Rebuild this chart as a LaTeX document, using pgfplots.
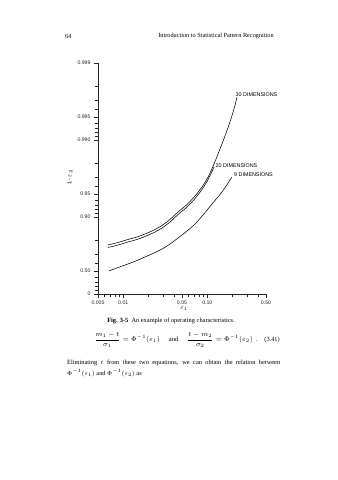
\documentclass[border=0pt]{standalone}
\usepackage{fontspec}
\setmainfont{Liberation Serif}
\newfontfamily\lsans{Liberation Sans}
\usepackage{amsmath}
\usepackage{pgfplots}
\pgfplotsset{compat=1.18}
\begin{document}
\begin{tikzpicture}[x=1bp,y=1bp]
\useasboundingbox (0,0) rectangle (337,480);
\fill[white] (0,0) rectangle (337,480);
% page header
\node[anchor=west, inner sep=0, font=\fontsize{6.3}{7.5}\selectfont] at (65,444) {64};
\node[inner sep=0, font=\fontsize{6.3}{7.5}\selectfont] at (216,444) {Introduction to Statistical Pattern Recognition};
\begin{axis}[
  at={(98bp,186bp)}, anchor=south west,
  scale only axis, width=168bp, height=231bp,
  xmode=log, ymode=log, y dir=reverse,
  xmin=0.005, xmax=0.5, ymin=0.001, ymax=1,
  axis lines=left, axis line style={-, line width=0.5pt, black!85},
  xtick={0.005,0.01,0.05,0.1,0.5},
  xticklabels={0.005,0.01,0.05,0.10,0.50},
  minor xtick={0.006,0.007,0.008,0.009,0.02,0.03,0.04,0.06,0.07,0.08,0.09,0.2,0.3,0.4},
  ytick={0.001,0.005,0.01,0.05,0.1,0.5,1},
  yticklabels={0.999,0.995,0.990,0.95,0.90,0.50,0},
  minor ytick={0.002,0.003,0.004,0.006,0.007,0.008,0.009,0.02,0.03,0.04,0.06,0.07,0.08,0.09,0.2,0.3,0.4,0.6,0.7,0.8,0.9},
  tick align=outside, major tick length=4bp, minor tick length=3.5bp,
  tick style={black!85, line width=0.4pt},
  ticklabel style={font=\lsans\fontsize{5.2}{6}\selectfont, text=black!85},
  xticklabel style={yshift=0.5bp},
  /pgf/number format/assume math mode=true,
  clip=false,
]
% 30 dimensions
\addplot[black, line width=0.55pt, smooth] coordinates {
 (0.00658,0.2312) (0.00865,0.2143) (0.01138,0.1959) (0.01456,0.1818) (0.01815,0.1663)
 (0.02323,0.1476) (0.0289,0.1289) (0.0360,0.1076) (0.0448,0.0861) (0.0574,0.0688)
 (0.0714,0.0533) (0.0865,0.0407) (0.1021,0.0303) (0.1202,0.0205) (0.1416,0.0131)
 (0.1625,0.00887) (0.1862,0.00583) (0.2080,0.00395) (0.226,0.00277)};
% 20 dimensions
\addplot[black, line width=0.55pt, smooth] coordinates {
 (0.00658,0.249) (0.00865,0.2312) (0.01138,0.2113) (0.01456,0.1959) (0.01815,0.1791)
 (0.02323,0.1589) (0.0289,0.1390) (0.0360,0.1161) (0.0448,0.0929) (0.0574,0.0742)
 (0.0714,0.0575) (0.0865,0.0439) (0.1021,0.0326) (0.1202,0.0224)};
% 9 dimensions
\addplot[black, line width=0.55pt, smooth] coordinates {
 (0.00676,0.502) (0.00865,0.453) (0.01138,0.4074) (0.01456,0.367) (0.01815,0.3304)
 (0.02323,0.2935) (0.0289,0.2606) (0.0360,0.2244) (0.0448,0.1875) (0.0574,0.1521)
 (0.0714,0.1233) (0.0889,0.0942) (0.1138,0.0678) (0.1496,0.0473) (0.1968,0.0303)};
\node[anchor=south west, inner sep=0.5bp, font=\lsans\fontsize{5.4}{6}\selectfont] at (axis cs:0.214,0.00277) {30 DIMENSIONS};
\node[anchor=west, inner sep=0.5bp, font=\lsans\fontsize{5.4}{6}\selectfont] at (axis cs:0.1236,0.0218) {20 DIMENSIONS};
\node[anchor=west, inner sep=0.5bp, font=\lsans\fontsize{5.4}{6}\selectfont] at (axis cs:0.205,0.0285) {9 DIMENSIONS};
\end{axis}
% axis labels
\node[rotate=90, font=\lsans\fontsize{5.6}{6}\selectfont] at (70,303) {1\,-\,$\varepsilon_2$};
\node[font=\fontsize{6.5}{7}\selectfont] at (184,171) {$\varepsilon_1$};
% caption
\node[font=\fontsize{6.4}{7.5}\selectfont] at (171,159) {\textbf{Fig. 3-5}\enspace An example of operating characteristics.};
% equation
\node[font=\fontsize{6.6}{8}\selectfont] at (176,140) {$\dfrac{m_1-t}{\sigma_1}=\Phi^{-1}(\varepsilon_1)\quad\;\text{and}\quad\;\dfrac{t-m_2}{\sigma_2}=\Phi^{-1}(\varepsilon_2)\;.$};
\node[anchor=east, inner sep=0, font=\fontsize{6.4}{7.5}\selectfont] at (280,140) {(3.41)};
% paragraph
\node[anchor=west, inner sep=0, font=\fontsize{6.4}{7.5}\selectfont] at (67,117) {\makebox[213bp][s]{Eliminating $t$ from these two equations, we can obtain the relation between}};
\node[anchor=west, inner sep=0, font=\fontsize{6.4}{7.5}\selectfont] at (67,107) {$\Phi^{-1}(\varepsilon_1)$ and $\Phi^{-1}(\varepsilon_2)$ as};
\end{tikzpicture}
\end{document}
